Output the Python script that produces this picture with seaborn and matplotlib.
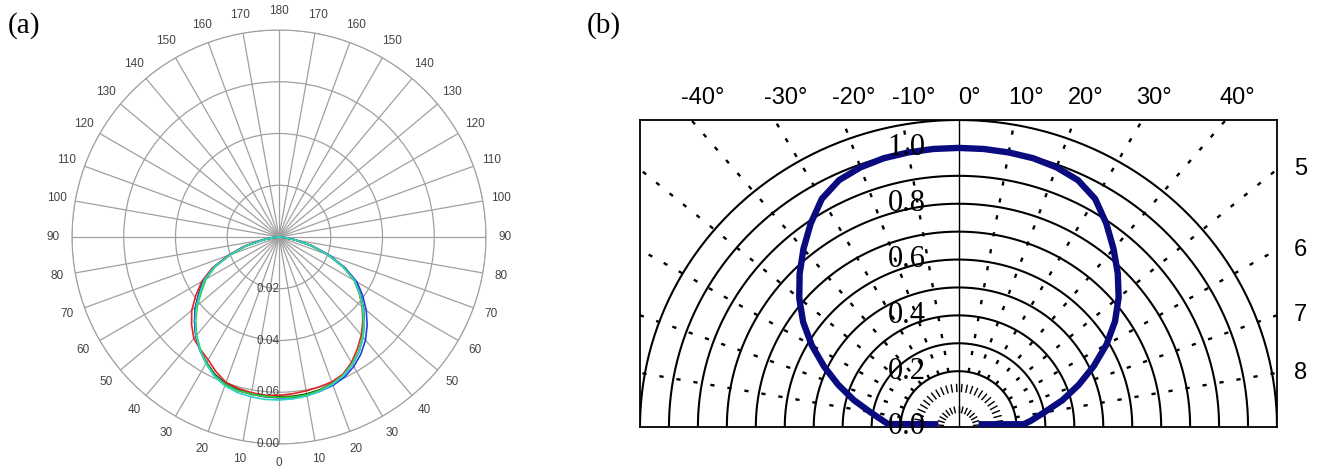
import numpy as np
import pandas as pd
import matplotlib
matplotlib.use("Agg")
import matplotlib.pyplot as plt
import seaborn as sns
from matplotlib import font_manager
from matplotlib.collections import LineCollection

# ---------------- data: panel (a) ----------------
angles_a = list(range(-90, 95, 5))  # degrees, 0 = straight down, negative = left

black = [0.000, 0.0020, 0.0062, 0.0135, 0.0205, 0.0280, 0.0338, 0.0378, 0.0422, 0.0462, 0.0500, 0.0532,
         0.0560, 0.0586, 0.0603, 0.0610, 0.0613, 0.0616, 0.0617,
         0.0618, 0.0616, 0.0611, 0.0603, 0.0590, 0.0568, 0.0540, 0.0505, 0.0466, 0.0426, 0.0383,
         0.0340, 0.0278, 0.0205, 0.0132, 0.0062, 0.0020, 0.000]
red = [0.000, 0.0022, 0.0065, 0.0140, 0.0210, 0.0285, 0.0345, 0.0392, 0.0440, 0.0478, 0.0512, 0.0530,
       0.0548, 0.0575, 0.0598, 0.0606, 0.0611, 0.0614, 0.0612,
       0.0608, 0.0604, 0.0600, 0.0596, 0.0585, 0.0560, 0.0528, 0.0495, 0.0458, 0.0420, 0.0380,
       0.0336, 0.0275, 0.0200, 0.0128, 0.0060, 0.0020, 0.000]
green = [0.000, 0.0018, 0.0058, 0.0130, 0.0200, 0.0272, 0.0325, 0.0365, 0.0412, 0.0455, 0.0495, 0.0530,
         0.0562, 0.0590, 0.0606, 0.0614, 0.0616, 0.0618, 0.0620,
         0.0621, 0.0619, 0.0613, 0.0603, 0.0588, 0.0565, 0.0538, 0.0502, 0.0462, 0.0420, 0.0378,
         0.0335, 0.0272, 0.0200, 0.0130, 0.0060, 0.0018, 0.000]
blue = [0.000, 0.0020, 0.0060, 0.0133, 0.0203, 0.0278, 0.0336, 0.0376, 0.0420, 0.0460, 0.0500, 0.0534,
        0.0563, 0.0590, 0.0606, 0.0614, 0.0617, 0.0620, 0.0622,
        0.0624, 0.0622, 0.0617, 0.0610, 0.0598, 0.0578, 0.0552, 0.0520, 0.0482, 0.0440, 0.0395,
        0.0348, 0.0282, 0.0208, 0.0134, 0.0063, 0.0020, 0.000]
cyan = [0.000, 0.0020, 0.0060, 0.0132, 0.0203, 0.0277, 0.0333, 0.0372, 0.0417, 0.0458, 0.0498, 0.0533,
        0.0565, 0.0593, 0.0612, 0.0622, 0.0627, 0.0630, 0.0630,
        0.0628, 0.0624, 0.0617, 0.0606, 0.0591, 0.0568, 0.0540, 0.0506, 0.0466, 0.0424, 0.0381,
        0.0338, 0.0276, 0.0203, 0.0131, 0.0061, 0.0020, 0.000]
yellow = [0.000, 0.0020, 0.0060, 0.0132, 0.0202, 0.0276, 0.0334, 0.0374, 0.0418, 0.0459, 0.0499, 0.0531,
          0.0562, 0.0592, 0.0609, 0.0615, 0.0617, 0.0619, 0.0619,
          0.0619, 0.0617, 0.0612, 0.0604, 0.0590, 0.0567, 0.0539, 0.0504, 0.0465, 0.0424, 0.0381,
          0.0338, 0.0277, 0.0204, 0.0131, 0.0061, 0.0020, 0.000]

series_a = {"yellow": yellow, "black": black, "red": red, "blue": blue, "green": green, "cyan": cyan}
colors_a = {"yellow": "#e6df3a", "black": "#222222", "red": "#e02424", "blue": "#2440e0",
            "green": "#2fd02f", "cyan": "#2ed3c6"}

r_ticks_a = [0.02, 0.04, 0.06, 0.08]
r_labels_a = ["0.02", "0.04", "0.06", "0.00"]

# ---------------- data: panel (b) ----------------
theta_b = [-82, -87.5, -85, -80, -75, -70, -65, -60, -55, -50, -45, -40, -35, -30, -25, -20, -15, -10, -5,
           0, 5, 10, 15, 20, 25, 30, 35, 40, 45, 50, 55, 60, 65, 70, 75, 80, 85, 87.5, 82]
r_b = [0.07, 0.244, 0.262, 0.31, 0.375, 0.442, 0.512, 0.585, 0.655, 0.718, 0.776, 0.833, 0.89, 0.944,
       0.976, 0.99, 0.997, 0.999, 1.0, 1.0,
       1.0, 0.999, 0.997, 0.99, 0.976, 0.944, 0.89, 0.833, 0.778, 0.722, 0.66, 0.59, 0.515, 0.442,
       0.372, 0.30, 0.25, 0.225, 0.07]

ring_radii = [0.2, 0.3, 0.4, 0.5, 0.6, 0.7, 0.8, 0.9, 1.0, 1.1]
spoke_angles = [-80, -70, -60, -50, -40, -30, -20, -10, 10, 20, 30, 40, 50, 60, 70, 80]
r_label_vals = [1.0, 0.8, 0.6, 0.4, 0.2, 0.0]
top_angles = [-40, -30, -20, -10, 0, 10, 20, 30, 40]
side_angles = [50, 60, 70, 80]
side_labels = ["5", "6", "7", "8"]
hash_rings = [(0.125, 0.155, 7.0), (0.05, 0.075, 12.0)]  # inner, outer, step deg


def pick(*names):
    for n in names:
        try:
            font_manager.findfont(n, fallback_to_default=False)
            return n
        except Exception:
            continue
    return "DejaVu Sans"


sns.set_style("white")
narrow = pick("Liberation Sans Narrow", "Liberation Sans")
serif = pick("Liberation Serif", "DejaVu Serif")
plt.rcParams["font.family"] = [pick("Liberation Sans"), "DejaVu Sans"]

fig = plt.figure(figsize=(13.25, 4.7), dpi=100)

# ---------------- panel (a) ----------------
ax_a = fig.add_axes([72 / 1325, 26 / 470, 414 / 1325, 414 / 470], projection="polar")
ax_a.set_theta_zero_location("S")
ax_a.set_theta_direction(1)

rows = []
for name, vals in series_a.items():
    for ang, v in zip(angles_a, vals):
        rows.append({"series": name, "theta": np.deg2rad(ang), "r": v})
df_a = pd.DataFrame(rows)
sns.lineplot(data=df_a, x="theta", y="r", hue="series", palette=colors_a, sort=False,
             estimator=None, units="series", legend=False, lw=1.2, ax=ax_a)

ax_a.set_ylim(0, 0.08)
ax_a.set_yticks(r_ticks_a)
ax_a.set_yticklabels([])
deg = np.arange(0, 360, 10)
ax_a.set_xticks(np.deg2rad(deg))
ax_a.set_xticklabels([str(min(d, 360 - d)) for d in deg])
ax_a.grid(True, color="#a0a0a0", lw=0.9)
ax_a.spines["polar"].set_color("#a0a0a0")
ax_a.tick_params(axis="x", labelsize=8.5, labelcolor="#444444", pad=3)
for t in ax_a.get_xticklabels():
    t.set_family([narrow, "DejaVu Sans"])
for r, lab in zip(r_ticks_a, r_labels_a):
    ax_a.annotate(lab, xy=(0, r), xytext=(-8, 0), textcoords="offset points",
                  ha="center", va="center", fontsize=8.5, color="#444444",
                  family=[narrow, "DejaVu Sans"], annotation_clip=False)
ax_a.set_xlabel("")
ax_a.set_ylabel("")

# ---------------- panel (b) ----------------
ax_b = fig.add_axes([640 / 1325, 43 / 470, 637 / 1325, 307 / 470])
ax_b.set_xlim(-1.1, 1.1)
ax_b.set_ylim(0, 1.1)
ax_b.set_xticks([])
ax_b.set_yticks([])
for s in ax_b.spines.values():
    s.set_color("black")
    s.set_linewidth(1.3)

phi = np.linspace(0, np.pi, 300)
for rr in ring_radii:
    ax_b.plot(rr * np.cos(phi), rr * np.sin(phi), color="black", lw=1.5, zorder=2)
ax_b.axvline(0, color="black", lw=1.0, zorder=2)
for a in spoke_angles:
    t = np.deg2rad(a)
    ax_b.plot([0.2 * np.sin(t), 2 * np.sin(t)], [0.2 * np.cos(t), 2 * np.cos(t)], color="black",
              lw=1.7, linestyle=(0, (1.8, 5.5)), zorder=2)

segs = []
for r0, r1, step in hash_rings:
    for a in np.arange(-90 + step / 2, 90, step):
        t = np.deg2rad(a)
        segs.append([(r0 * np.sin(t), r0 * np.cos(t)), (r1 * np.sin(t), r1 * np.cos(t))])
ax_b.add_collection(LineCollection(segs, colors="black", linewidths=1.0, zorder=2))

tb = np.deg2rad(theta_b)
df_b = pd.DataFrame({"x": np.array(r_b) * np.sin(tb), "y": np.array(r_b) * np.cos(tb)})
sns.lineplot(data=df_b, x="x", y="y", sort=False, estimator=None, color="#0b0b80",
             lw=4.6, ax=ax_b, zorder=4, solid_joinstyle="round", solid_capstyle="butt")
ax_b.set_xlabel("")
ax_b.set_ylabel("")

for v in r_label_vals:
    ax_b.text(-0.18, v, f"{v:.1f}", family=[serif, "DejaVu Serif"], fontsize=22, color="black",
              ha="center", va="center", zorder=5, clip_on=False)

for a in top_angles:
    xa = 1.1 * np.tan(np.deg2rad(a))
    ax_b.annotate(f"{a}\u00b0", xy=(xa, 1.1), xycoords="data", xytext=(8, 16),
                  textcoords="offset points", ha="center", va="center", color="black",
                  family=[narrow, "DejaVu Sans"], fontsize=17, annotation_clip=False)

for a, lab in zip(side_angles, side_labels):
    ya = 1.1 / np.tan(np.deg2rad(a))
    ax_b.annotate(lab, xy=(1.1, ya), xycoords="data", xytext=(12, 0),
                  textcoords="offset points", ha="left", va="center", color="black",
                  family=[narrow, "DejaVu Sans"], fontsize=17, annotation_clip=False)

fig.text(8 / 1325, 1 - 26 / 470, "(a)", family=[serif, "DejaVu Serif"], fontsize=21,
         ha="left", va="center", color="black")
fig.text(587 / 1325, 1 - 26 / 470, "(b)", family=[serif, "DejaVu Serif"], fontsize=21,
         ha="left", va="center", color="black")

fig.savefig("out.png", dpi=100)
